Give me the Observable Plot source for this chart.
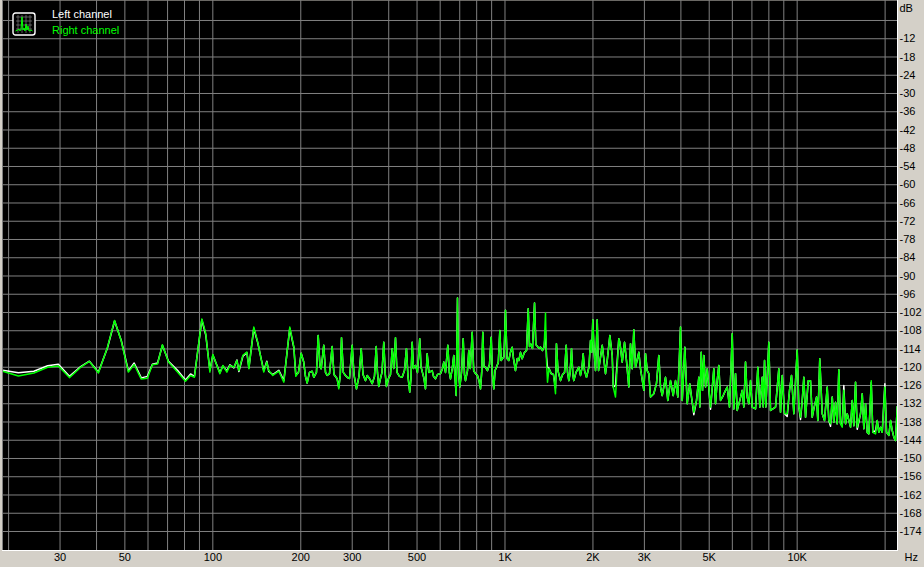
<!DOCTYPE html>
<html>
<head>
<meta charset="utf-8">
<script src="https://cdn.jsdelivr.net/npm/d3@7"></script>
<script src="https://cdn.jsdelivr.net/npm/@observablehq/plot@0.6"></script>
<style>
  html, body { margin: 0; padding: 0; background: #d4d0c8; }
  #wrap { position: relative; width: 924px; height: 567px; overflow: hidden; }
  #legend { position: absolute; left: 0; top: 0; font-family: "Liberation Sans", Arial, sans-serif; font-size: 11px; }
  #legend .lbl { position: absolute; left: 52px; white-space: nowrap; }
</style>
</head>
<body>
<div id="wrap">
  <div id="chart"></div>
  <div id="legend"></div>
</div>
<script>
// Right channel spectrum: [frequency Hz, level dB]
const rightChannel = [
  [19.1,-121.3],[21.6,-122.9],[24.4,-121.9],[27.2,-120.0],[29.6,-119.6],[32.3,-123.4],[35.3,-120.0],[37.8,-118.1],
  [40.6,-121.9],[43.6,-113.4],[46.1,-104.6],[48.6,-111.4],[51.4,-121.6],[53.8,-119.1],[56.9,-123.9],[59.7,-123.6],
  [62.1,-119.2],[64.7,-118.9],[67.2,-112.6],[70.5,-118.3],[75.7,-121.6],[80.6,-124.6],[83.9,-122.7],[86.5,-123.3],
  [91.7,-104.1],[94.6,-109.0],[97.7,-121.6],[100,-115.8],[105.7,-122.1],[108.2,-119.4],[111.7,-121.6],[114.4,-119.4],
  [118.1,-120.0],[120.9,-117.8],[122.8,-121.1],[126.7,-116.1],[130.8,-115.0],[132.9,-120.5],[138.1,-106.8],[142.5,-111.8],
  [149.4,-121.6],[153.0,-118.3],[155.4,-121.1],[160.4,-122.7],[168.2,-121.3],[175.0,-124.9],[183.4,-106.8],[189.4,-113.4],
  [192.3,-123.0],
  [196.4,-121.7],[200.6,-115.4],[204.7,-118.3],[207.5,-123.0],[210.3,-125.2],[214.2,-121.7],[218.8,-121.3],[221.6,-123.3],
  [226.3,-121.7],[229.4,-109.6],[232.7,-119.8],[234.9,-120.5],[239.7,-112.8],[243.0,-121.7],[246.2,-122.7],[250.8,-122.1],
  [256.1,-113.2],[259.8,-122.4],[266.4,-123.8],[269.8,-127.1],[273.0,-122.7],[275.7,-110.3],[279.6,-121.7],[284.5,-122.7],
  [289.0,-123.4],[293.6,-123.7],[299.9,-112.8],[304.2,-122.4],[310.2,-127.1],[316.4,-123.0],[322.0,-113.9],[326.6,-122.4],
  [333.1,-124.4],[337.5,-122.7],[343.7,-123.7],[351.1,-125.4],[357.5,-123.0],[362.4,-113.2],[366.0,-121.7],[369.8,-126.3],
  [374.8,-123.7],[379.3,-121.7],[384.7,-111.8],[389.3,-122.4],[392.9,-126.3],[399.2,-123.7],[405.6,-122.4],[411.1,-113.9],
  [416.0,-120.4],[421.9,-110.3],[426.9,-121.7],[435.4,-123.0],[444.7,-123.3],[452.8,-121.1],[460.0,-113.9],[465.5,-123.0],
  [472.0,-128.2],[476.7,-123.7],[481.2,-111.8],[486.1,-120.4],[493.9,-119.4],[501.7,-121.7],[510.7,-110.6],[515.7,-119.8],
  [528.1,-123.7],[534.4,-127.1],[541.5,-115.6],[549.3,-121.7],[563.4,-121.1],[569.2,-123.0],[578.2,-123.8],[587.4,-122.4],
  [601.5,-122.1],[611.1,-120.4],[617.3,-118.3],[625.7,-121.7],[637.2,-112.8],[644.9,-121.7],[650.8,-123.8],[660.1,-120.4],
  [667.9,-116.1],[674.8,-123.7],[680.7,-129.3],[687.7,-97.2],[694.3,-122.7],[700.5,-126.5],[709.8,-121.7],[719.4,-110.6],
  [726.7,-122.4],[732.5,-124.4],[744.1,-121.1],[751.8,-114.5],[760.8,-120.4],[772.2,-108.5],[781.4,-121.1],[792.5,-122.1],
  [805.1,-122.7],[814.7,-124.4],[824.4,-127.1],[832.2,-121.7],[839.5,-108.5],[847.6,-119.8],[857.5,-120.0],[871.1,-121.1],
  [885.0,-119.1],[896.9,-110.1],[906.2,-122.7],[915.5,-127.1],[924.2,-121.1],[935.2,-120.0],[948.6,-118.4],[960.1,-107.9],
  [969.7,-117.8],[992.2,-116.5],[1004,-101.3],[1016,-117.1],[1030,-117.8],[1044,-115.1],[1058,-113.4],[1069,-117.1],
  [1086,-121.1],[1102,-117.1],[1115,-117.8],[1130,-115.1],[1145,-117.2],[1166,-115.1],[1185,-114.5],[1201,-100.8],
  [1213,-113.2],[1223,-112.3],[1242,-113.8],[1262,-98.9],[1275,-112.5],[1308,-113.8],[1323,-113.4],[1344,-114.5],
  [1362,-113.2],[1376,-102.2],[1387,-117.8],[1398,-124.9],[1415,-120.4],[1439,-122.1],[1465,-122.4],[1489,-128.7],
  [1500,-112.3],[1518,-121.1],[1549,-124.4],[1574,-122.4],[1599,-121.7],[1620,-112.8],[1637,-121.7],[1654,-124.4],
  [1671,-121.7],[1689,-113.9],[1707,-122.4],[1720,-124.4],[1750,-121.7],[1789,-120.0],[1813,-122.7],[1833,-120.4],
  [1852,-115.6],[1871,-121.1],[1901,-123.3],[1939,-119.8],[1962,-111.2],[1981,-115.1],[1998,-104.4],[2017,-114.5],
  [2041,-121.1],[2068,-104.4],[2090,-121.1],
  [2152,-112.8],[2208,-122.1],[2238,-117.8],[2285,-109.6],[2328,-116.1],[2347,-126.5],[2389,-129.8],[2452,-110.6],
  [2472,-111.8],[2519,-118.3],[2565,-111.8],[2605,-117.8],[2653,-126.5],[2689,-112.3],[2725,-120.5],[2760,-107.7],
  [2797,-120.0],[2871,-115.1],[2910,-120.5],[2987,-127.6],[3027,-115.6],[3067,-121.1],[3107,-122.1],[3148,-129.8],
  [3231,-128.7],[3300,-125.3],[3361,-116.1],[3406,-126.5],[3452,-129.3],[3543,-123.3],[3608,-130.9],[3686,-124.4],
  [3765,-129.3],[3834,-124.4],[3905,-129.8],[3988,-106.8],[4042,-130.9],[4126,-113.4],[4204,-132.0],[4289,-125.4],
  [4349,-129.8],[4429,-134.8],[4524,-130.9],[4607,-123.3],[4644,-133.1],[4695,-115.1],[4743,-127.6],[4792,-116.1],
  [4857,-126.5],[4922,-120.5],[5052,-133.1],[5185,-120.5],[5255,-132.0],[5325,-124.4],[5393,-119.4],[5466,-130.9],
  [5584,-129.3],[5686,-127.6],[5762,-126.5],[5868,-133.1],[5994,-109.0],[6070,-133.7],[6152,-122.1],[6234,-134.2],
  [6365,-130.9],[6485,-127.6],[6567,-133.1],[6656,-118.3],[6745,-129.8],[6832,-132.0],[6924,-124.4],[7017,-133.1],
  [7202,-133.7],[7335,-120.0],[7452,-133.1],[7593,-123.3],[7654,-133.1],[7732,-117.8],[7812,-133.1],[7998,-111.8],
  [8106,-134.2],[8432,-133.1],[8654,-120.5],[8771,-134.8],[8889,-122.7],[9052,-135.3],[9245,-135.3],[9416,-127.6],
  [9565,-122.7],[9740,-135.3],[10003,-114.3],[10132,-133.1],[10269,-136.4],[10408,-130.9],[10539,-123.3],[10682,-136.4],
  [10912,-124.4],[11110,-124.4],[11260,-136.4],[11402,-133.7],[11648,-129.8],[11769,-137.5],[11950,-117.2],[12184,-135.3],
  [12407,-137.5],[12672,-126.5],[12835,-137.5],[13007,-138.6],[13183,-129.8],[13349,-138.1],[13530,-131.5],[13711,-138.6],
  [13886,-120.8],[14074,-138.6],[14264,-139.7],[14444,-127.6],[14640,-138.6],[14835,-135.3],[15229,-139.7],[15435,-130.9],
  [15630,-139.2],[15841,-124.9],[16053,-139.7],[16478,-135.3],[16700,-128.7],[16911,-140.2],[17140,-132.0],[17369,-141.4],
  [17592,-141.9],[17927,-124.4],[18155,-141.4],[18546,-141.9],[18794,-137.5],[19034,-141.4],[19292,-139.7],[19552,-141.4],
  [19962,-126.5],[20226,-141.4],[20596,-142.4],[20874,-137.5],[21156,-140.8],[21423,-143.0],[21713,-144.1],[22003,-132.9]
];

// Left channel spectrum: [frequency Hz, level dB]
const leftChannel = [
  [19.1,-121.0],[21.6,-121.8],[24.4,-121.3],[27.2,-119.5],[29.6,-119.0],[32.3,-123.0],[35.3,-119.8],[37.8,-118.0],
  [40.6,-121.6],[43.6,-113.6],[46.1,-104.8],[48.6,-111.2],[51.4,-121.2],[53.8,-118.6],[56.9,-123.5],[59.7,-123.0],
  [62.1,-119.0],[64.7,-118.6],[67.2,-112.8],[70.5,-118.0],[75.7,-121.0],[80.6,-124.2],[83.9,-122.2],[86.5,-123.0],
  [91.7,-104.4],[94.6,-109.4],[97.7,-121.0],[100,-116.0],[105.7,-121.8],[108.2,-119.6],[111.7,-121.2],[114.4,-119.2],
  [118.1,-120.2],[120.9,-117.6],[122.8,-121.4],[126.7,-116.4],[130.8,-115.2],[132.9,-120.2],[138.1,-107.2],[142.5,-112.0],
  [149.4,-121.2],[153.0,-118.0],[155.4,-121.4],[160.4,-122.4],[168.2,-121.0],[175.0,-124.4],[183.4,-107.2],[189.4,-113.6],
  [192.3,-122.6],
  [196.4,-121.7],[200.6,-115.4],[204.7,-118.3],[207.5,-123.0],[210.3,-125.2],[214.2,-121.7],[218.8,-121.3],[221.6,-123.3],
  [226.3,-121.7],[229.4,-109.6],[232.7,-119.8],[234.9,-120.5],[239.7,-112.8],[243.0,-121.7],[246.2,-122.7],[250.8,-122.1],
  [256.1,-113.2],[259.8,-122.4],[266.4,-123.8],[269.8,-126.6],[273.0,-122.7],[275.7,-110.3],[279.6,-121.7],[284.5,-122.7],
  [289.0,-123.4],[293.6,-123.7],[299.9,-112.8],[304.2,-122.4],[310.2,-127.1],[316.4,-123.0],[322.0,-113.9],[326.6,-122.4],
  [333.1,-124.4],[337.5,-122.7],[343.7,-123.7],[351.1,-125.4],[357.5,-123.0],[362.4,-113.2],[366.0,-121.7],[369.8,-126.3],
  [374.8,-123.7],[379.3,-121.7],[384.7,-111.8],[389.3,-122.4],[392.9,-126.3],[399.2,-123.7],[405.6,-122.4],[411.1,-113.9],
  [416.0,-120.4],[421.9,-110.3],[426.9,-121.7],[435.4,-123.0],[444.7,-123.3],[452.8,-121.1],[460.0,-113.9],[465.5,-123.0],
  [472.0,-128.2],[476.7,-123.7],[481.2,-111.8],[486.1,-120.4],[493.9,-119.4],[501.7,-121.7],[510.7,-110.6],[515.7,-119.8],
  [528.1,-123.7],[534.4,-127.1],[541.5,-115.6],[549.3,-121.7],[563.4,-121.1],[569.2,-123.0],[578.2,-123.8],[587.4,-122.4],
  [601.5,-122.1],[611.1,-120.4],[617.3,-118.3],[625.7,-121.7],[637.2,-112.8],[644.9,-121.7],[650.8,-123.8],[660.1,-120.4],
  [667.9,-116.1],[674.8,-123.7],[680.7,-129.3],[687.7,-97.2],[694.3,-122.7],[700.5,-126.5],[709.8,-121.7],[719.4,-110.6],
  [726.7,-122.4],[732.5,-124.4],[744.1,-121.1],[751.8,-114.5],[760.8,-120.4],[772.2,-108.5],[781.4,-121.1],[792.5,-122.1],
  [805.1,-122.7],[814.7,-124.4],[824.4,-127.1],[832.2,-121.7],[839.5,-108.5],[847.6,-119.8],[857.5,-120.0],[871.1,-121.1],
  [885.0,-119.1],[896.9,-110.1],[906.2,-122.7],[915.5,-127.1],[924.2,-121.1],[935.2,-120.0],[948.6,-118.4],[960.1,-107.9],
  [969.7,-117.8],[992.2,-116.5],[1004,-101.3],[1016,-117.1],[1030,-117.8],[1044,-115.1],[1058,-113.4],[1069,-117.1],
  [1086,-121.1],[1102,-117.1],[1115,-117.8],[1130,-115.1],[1145,-117.2],[1166,-115.1],[1185,-114.5],[1201,-100.8],
  [1213,-113.2],[1223,-112.3],[1242,-113.8],[1262,-98.9],[1275,-112.5],[1308,-113.8],[1323,-113.4],[1344,-114.5],
  [1362,-113.2],[1376,-108.0],[1387,-116.5],[1398,-120.0],[1415,-120.4],[1439,-122.1],[1465,-122.4],[1489,-126.8],
  [1500,-112.3],[1518,-121.1],[1549,-124.4],[1574,-122.4],[1599,-121.7],[1620,-112.8],[1637,-121.7],[1654,-124.4],
  [1671,-121.7],[1689,-113.9],[1707,-122.4],[1720,-124.4],[1750,-121.7],[1789,-120.0],[1813,-122.7],[1833,-120.4],
  [1852,-115.6],[1871,-121.1],[1901,-123.3],[1939,-119.8],[1962,-111.2],[1981,-115.1],[1998,-104.4],[2017,-114.5],
  [2041,-121.1],[2068,-104.4],[2090,-121.1],
  [2152,-112.8],[2208,-122.1],[2238,-117.8],[2285,-109.6],[2328,-116.1],[2347,-126.5],[2389,-126.0],[2452,-110.6],
  [2472,-111.8],[2519,-118.3],[2565,-111.8],[2605,-117.8],[2653,-126.5],[2689,-112.3],[2725,-120.5],[2760,-107.7],
  [2797,-120.0],[2871,-115.1],[2910,-120.5],[2987,-127.6],[3027,-115.6],[3067,-121.1],[3107,-122.1],[3148,-129.8],
  [3231,-128.7],[3300,-125.3],[3361,-116.1],[3406,-126.5],[3452,-129.3],[3543,-123.3],[3608,-130.9],[3686,-124.4],
  [3765,-129.3],[3834,-124.4],[3905,-129.8],[3988,-106.8],[4042,-130.9],[4126,-113.4],[4204,-132.0],[4289,-125.4],
  [4349,-129.8],[4429,-135.6],[4524,-130.9],[4607,-123.3],[4644,-133.1],[4695,-115.1],[4743,-127.6],[4792,-116.1],
  [4857,-126.5],[4922,-120.5],[5052,-133.8],[5185,-120.5],[5255,-132.0],[5325,-124.4],[5393,-119.4],[5466,-130.9],
  [5584,-129.3],[5686,-127.6],[5762,-126.5],[5868,-133.1],[5994,-109.0],[6070,-133.7],[6152,-122.1],[6234,-134.2],
  [6365,-130.9],[6485,-127.6],[6567,-133.1],[6656,-118.3],[6745,-129.8],[6832,-132.0],[6924,-124.4],[7017,-133.1],
  [7202,-133.7],[7335,-120.0],[7452,-133.1],[7593,-123.3],[7654,-133.1],[7732,-117.8],[7812,-133.1],[7998,-111.8],
  [8106,-134.2],[8432,-133.1],[8654,-120.5],[8771,-134.8],[8889,-122.7],[9052,-135.3],[9245,-136.2],[9416,-127.6],
  [9565,-122.7],[9740,-135.3],[10003,-114.3],[10132,-133.1],[10269,-137.2],[10408,-130.9],[10539,-123.3],[10682,-136.4],
  [10912,-124.4],[11110,-124.4],[11260,-136.4],[11402,-133.7],[11648,-129.8],[11769,-137.5],[11950,-117.2],[12184,-135.3],
  [12407,-137.5],[12672,-126.5],[12835,-137.5],[13007,-139.4],[13183,-129.8],[13349,-138.1],[13530,-131.5],[13711,-138.6],
  [13886,-120.8],[14074,-138.6],[14264,-139.2],[14444,-126.0],[14640,-138.6],[14835,-135.3],[15229,-139.7],[15435,-130.9],
  [15630,-139.2],[15841,-124.9],[16053,-140.4],[16478,-135.3],[16700,-128.7],[16911,-140.2],[17140,-132.0],[17369,-141.4],
  [17592,-141.9],[17927,-125.0],[18155,-141.4],[18546,-140.8],[18794,-137.5],[19034,-141.4],[19292,-139.7],[19552,-141.4],
  [19962,-125.4],[20226,-141.4],[20596,-142.4],[20874,-137.5],[21156,-140.8],[21423,-143.0],[21713,-144.1],[22003,-132.9]
];

const xGridHz = [20,30,40,50,60,70,80,90,100,200,300,400,500,600,700,800,900,1000,2000,3000,4000,5000,6000,7000,8000,9000,10000,20000];
const xTickHz = [30,50,100,200,300,500,1000,2000,3000,5000,10000];
const xTickLabels = ["30","50","100","200","300","500","1K","2K","3K","5K","10K"];
const yGridDb = [-6,-12,-18,-24,-30,-36,-42,-48,-54,-60,-66,-72,-78,-84,-90,-96,-102,-108,-114,-120,-126,-132,-138,-144,-150,-156,-162,-168,-174];
const yTickDb = [-12,-18,-24,-30,-36,-42,-48,-54,-60,-66,-72,-78,-84,-90,-96,-102,-108,-114,-120,-126,-132,-138,-144,-150,-156,-162,-168,-174];
const seriesNames = ["Left channel", "Right channel"];
const seriesColors = ["#ffffff", "#00ff00"];
const xUnit = "Hz";
const yUnit = "dB";

const toRows = (arr, name) => arr.map(([f, db]) => ({f, db, name}));
const leftRows = toRows(leftChannel, seriesNames[0]);
const rightRows = toRows(rightChannel, seriesNames[1]);
const xLabelRows = xTickHz.map((v, i) => ({v, label: xTickLabels[i]}));

const chart = Plot.plot({
  width: 924,
  height: 567,
  marginLeft: 2,
  marginRight: 27,
  marginTop: 0,
  marginBottom: 17,
  style: {background: "#d4d0c8", color: "#000", fontFamily: "'Liberation Sans', Arial, sans-serif", fontSize: "11px"},
  x: {type: "log", domain: [19.06, 22050], label: null, axis: null},
  y: {domain: [-180.25, 0.575], label: null},
  marks: [
    Plot.frame({fill: "#000", stroke: null}),
    Plot.gridX(xGridHz, {stroke: "#808080", strokeOpacity: 1, strokeWidth: 1}),
    Plot.gridY(yGridDb, {stroke: "#808080", strokeOpacity: 1, strokeWidth: 1}),
    Plot.line(leftRows, {x: "f", y: "db", stroke: seriesColors[0], strokeWidth: 1.5}),
    Plot.line(rightRows, {x: "f", y: "db", stroke: seriesColors[1], strokeWidth: 1.5}),
    Plot.frame({anchor: "left", stroke: "#808080"}),
    Plot.frame({anchor: "bottom", stroke: "#ffffff"}),
    Plot.frame({anchor: "right", stroke: "#ffffff"}),
    Plot.text(xLabelRows, {x: "v", text: "label", frameAnchor: "bottom", dy: 7, lineAnchor: "middle", fill: "#000", fontSize: 11}),
    Plot.axisY(yTickDb, {anchor: "right", tickSize: 0, tickPadding: 2, tickFormat: d => String(d), fill: "#000", fontSize: 11}),
    Plot.text([yUnit], {frameAnchor: "top-right", dx: 2, dy: 8, lineAnchor: "middle", textAnchor: "start", fill: "#000", fontSize: 11}),
    Plot.text([xUnit], {frameAnchor: "bottom-right", dx: 7, dy: 7, lineAnchor: "middle", textAnchor: "start", fill: "#000", fontSize: 11})
  ]
});
document.getElementById("chart").appendChild(chart);

// Legend overlay (inside the plot, top-left)
const legend = document.getElementById("legend");
legend.innerHTML = `
  <svg width="24" height="24" style="position:absolute;left:12px;top:12px" viewBox="0 0 24 24">
    <rect x="1" y="1" width="22" height="22" rx="2.5" fill="#000" stroke="#ffffff" stroke-width="1.4"/>
    <path d="M4 5H20M4 9H20M4 13H20M4 17H20M6 3V21M10 3V21M14 3V21M18 3V21" stroke="#808080" stroke-width="0.7"/>
    <path d="M3.5 19L6 18L7 17L8 19L9 17L10 5L11 18L12 16L13 19L14 12L15 18L16 14L17 19L19 18L20.5 19" fill="none" stroke="#00ff00" stroke-width="1"/>
  </svg>
  <div class="lbl" style="top:8px;color:${seriesColors[0]}">${seriesNames[0]}</div>
  <div class="lbl" style="top:24px;color:${seriesColors[1]}">${seriesNames[1]}</div>
`;
</script>
</body>
</html>
